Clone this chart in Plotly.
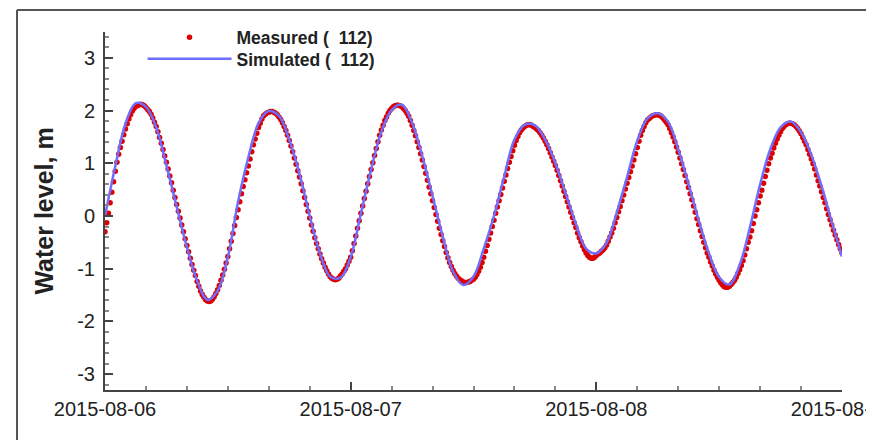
import pandas as pd
import plotly.graph_objects as go

# Simulated water level, hourly from 2015-08-06 00:00 (m)
simulated = [
    0.00, 0.94, 1.75, 2.14, 2.07, 1.68, 0.96, 0.18, -0.59, -1.23,
    -1.59, -1.42, -0.78, 0.27, 1.11, 1.76, 1.99, 1.90, 1.45, 0.80,
    0.00, -0.71, -1.15, -1.17, -0.78, 0.05, 0.88, 1.60, 2.01, 2.11,
    1.77, 1.13, 0.38, -0.39, -1.05, -1.31, -1.15, -0.62, 0.00, 0.75,
    1.45, 1.73, 1.72, 1.45, 1.00, 0.43, -0.15, -0.62, -0.71, -0.51,
    0.07, 0.74, 1.43, 1.85, 1.95, 1.79, 1.27, 0.61, -0.08, -0.71,
    -1.16, -1.30, -0.93, -0.22, 0.60, 1.27, 1.68, 1.79, 1.59, 1.16,
    0.57, -0.11, -0.77,
]

# Measured water level, every 10 minutes from 2015-08-06 00:00 (m)
measured = [
    -0.30, -0.13, 0.05, 0.25, 0.45, 0.65,
    0.85, 1.02, 1.17, 1.30, 1.42, 1.54,
    1.65, 1.75, 1.84, 1.92, 1.99, 2.04,
    2.08, 2.09, 2.11, 2.12, 2.11, 2.09,
    2.06, 2.02, 1.98, 1.93, 1.86, 1.78,
    1.70, 1.60, 1.49, 1.38, 1.26, 1.14,
    1.02, 0.89, 0.76, 0.63, 0.49, 0.35,
    0.22, 0.09, -0.04, -0.17, -0.30, -0.43,
    -0.56, -0.68, -0.80, -0.92, -1.03, -1.13,
    -1.24, -1.33, -1.42, -1.49, -1.54, -1.59,
    -1.61, -1.62, -1.61, -1.58, -1.53, -1.47,
    -1.40, -1.32, -1.22, -1.12, -1.01, -0.89,
    -0.77, -0.62, -0.48, -0.33, -0.18, -0.03,
    0.12, 0.27, 0.42, 0.56, 0.69, 0.82,
    0.95, 1.08, 1.22, 1.35, 1.46, 1.57,
    1.68, 1.76, 1.84, 1.90, 1.93, 1.96,
    1.97, 1.98, 1.98, 1.97, 1.95, 1.92,
    1.88, 1.83, 1.77, 1.70, 1.62, 1.53,
    1.43, 1.33, 1.22, 1.10, 0.98, 0.86,
    0.74, 0.61, 0.48, 0.35, 0.22, 0.09,
    -0.04, -0.17, -0.29, -0.41, -0.52, -0.62,
    -0.72, -0.81, -0.89, -0.97, -1.04, -1.10,
    -1.15, -1.18, -1.20, -1.21, -1.20, -1.18,
    -1.14, -1.10, -1.05, -1.00, -0.93, -0.86,
    -0.78, -0.66, -0.52, -0.38, -0.23, -0.09,
    0.05, 0.19, 0.33, 0.47, 0.61, 0.75,
    0.88, 1.01, 1.15, 1.28, 1.41, 1.53,
    1.63, 1.72, 1.81, 1.88, 1.95, 2.00,
    2.04, 2.07, 2.09, 2.10, 2.10, 2.09,
    2.07, 2.04, 2.00, 1.95, 1.89, 1.81,
    1.72, 1.62, 1.52, 1.41, 1.30, 1.18,
    1.06, 0.94, 0.81, 0.68, 0.55, 0.42,
    0.29, 0.16, 0.03, -0.10, -0.23, -0.35,
    -0.47, -0.58, -0.69, -0.79, -0.88, -0.96,
    -1.03, -1.09, -1.14, -1.18, -1.21, -1.23,
    -1.25, -1.26, -1.26, -1.25, -1.24, -1.22,
    -1.20, -1.16, -1.11, -1.05, -0.97, -0.88,
    -0.78, -0.67, -0.56, -0.44, -0.32, -0.20,
    -0.08, 0.05, 0.17, 0.29, 0.41, 0.53,
    0.66, 0.78, 0.90, 1.02, 1.13, 1.24,
    1.34, 1.43, 1.51, 1.58, 1.63, 1.67,
    1.70, 1.72, 1.73, 1.73, 1.72, 1.70,
    1.68, 1.65, 1.62, 1.58, 1.53, 1.48,
    1.42, 1.35, 1.28, 1.20, 1.12, 1.04,
    0.96, 0.87, 0.77, 0.67, 0.57, 0.47,
    0.37, 0.27, 0.17, 0.07, -0.03, -0.13,
    -0.22, -0.32, -0.41, -0.49, -0.57, -0.64,
    -0.70, -0.75, -0.78, -0.80, -0.80, -0.78,
    -0.75, -0.72, -0.70, -0.67, -0.64, -0.60,
    -0.55, -0.48, -0.40, -0.32, -0.23, -0.13,
    -0.03, 0.08, 0.18, 0.29, 0.40, 0.51,
    0.62, 0.73, 0.84, 0.95, 1.06, 1.18,
    1.30, 1.42, 1.53, 1.62, 1.70, 1.77,
    1.82, 1.85, 1.88, 1.90, 1.91, 1.92,
    1.92, 1.91, 1.89, 1.86, 1.82, 1.78,
    1.73, 1.66, 1.58, 1.50, 1.41, 1.31,
    1.21, 1.10, 0.99, 0.88, 0.77, 0.65,
    0.54, 0.42, 0.31, 0.19, 0.07, -0.05,
    -0.16, -0.28, -0.39, -0.50, -0.60, -0.70,
    -0.78, -0.87, -0.95, -1.03, -1.10, -1.16,
    -1.22, -1.27, -1.31, -1.34, -1.35, -1.35,
    -1.33, -1.30, -1.26, -1.22, -1.16, -1.09,
    -1.02, -0.94, -0.85, -0.74, -0.62, -0.50,
    -0.40, -0.28, -0.14, 0.00, 0.12, 0.25,
    0.38, 0.49, 0.62, 0.75, 0.87, 0.99,
    1.10, 1.19, 1.29, 1.38, 1.46, 1.53,
    1.60, 1.66, 1.70, 1.73, 1.75, 1.76,
    1.76, 1.75, 1.73, 1.70, 1.66, 1.61,
    1.56, 1.49, 1.42, 1.35, 1.26, 1.17,
    1.08, 0.99, 0.89, 0.78, 0.67, 0.57,
    0.46, 0.35, 0.25, 0.14, 0.03, -0.07,
    -0.17, -0.27, -0.36, -0.45, -0.54, -0.62,
    -0.70,
]

start_time = "2015-08-06 00:00"
end_time = "2015-08-09 00:00"
x_tick_dates = ["2015-08-06", "2015-08-07", "2015-08-08", "2015-08-09"]
y_tick_values = [-3, -2, -1, 0, 1, 2, 3]
y_tick_labels = ["-3", "-2", "-1", "0", "1", "2", "3"]

sim_times = pd.date_range(start_time, periods=len(simulated), freq="1h")
meas_times = pd.date_range(start_time, periods=len(measured), freq="10min")

fig = go.Figure()
fig.add_trace(go.Scatter(
    x=meas_times, y=measured, mode="markers",
    name="Measured (  112)", legend="legend",
    marker=dict(color="rgb(220,0,0)", size=5.5, symbol="circle"),
))
fig.add_trace(go.Scatter(
    x=sim_times, y=simulated, mode="lines",
    name="Simulated (  112)", legend="legend2",
    line=dict(color="rgb(110,110,255)", width=2.5, shape="spline", smoothing=1.0),
))

axis_col = "#444444"
legend_common = dict(
    xanchor="left", yanchor="top",
    bgcolor="rgba(0,0,0,0)",
    font=dict(size=17.5, weight="bold", color="#222222"),
    itemwidth=84,
)
fig.update_layout(
    width=874, height=440,
    margin=dict(l=97, r=40, t=24, b=58, autoexpand=False),
    paper_bgcolor="white", plot_bgcolor="white",
    font=dict(family="Liberation Sans, Arial, sans-serif", color="#222222"),
    showlegend=True,
    legend=dict(x=0.0509, y=1.035, **legend_common),
    legend2=dict(x=0.0509, y=0.975, **legend_common),
    xaxis=dict(
        type="date", range=[start_time, end_time],
        tickvals=x_tick_dates, tickformat="%Y-%m-%d",
        ticklabeloverflow="allow", automargin=False,
        ticks="inside", ticklen=8, tickwidth=1.5, tickcolor=axis_col,
        minor=dict(ticks="inside", ticklen=4, dtick=4 * 3600 * 1000, tickcolor="#888888"),
        showline=True, linecolor=axis_col, linewidth=2,
        showgrid=False, zeroline=False,
        tickfont=dict(size=20, color="#222222"),
    ),
    yaxis=dict(
        range=[-3.3, 3.49], automargin=False,
        tickvals=y_tick_values, ticktext=y_tick_labels,
        ticks="inside", ticklen=8, tickwidth=1.5, tickcolor=axis_col,
        minor=dict(ticks="inside", ticklen=4, dtick=0.2, tickcolor="#888888"),
        showline=True, linecolor=axis_col, linewidth=2,
        showgrid=False, zeroline=False,
        ticklabelstandoff=4,
        tickfont=dict(size=20, color="#222222"),
        title=dict(text="<b>Water level, m</b>", font=dict(size=25, color="#222222"), standoff=16),
    ),
    shapes=[
        dict(type="line", xref="paper", yref="paper", x0=-0.1194, x1=1.1, y0=1.0615, y1=1.0615,
             line=dict(color="#555555", width=2)),
        dict(type="line", xref="paper", yref="paper", x0=-0.1194, x1=-0.1194, y0=1.0615, y1=-0.2,
             line=dict(color="#555555", width=2)),
    ],
)

fig.write_html("out.html")
